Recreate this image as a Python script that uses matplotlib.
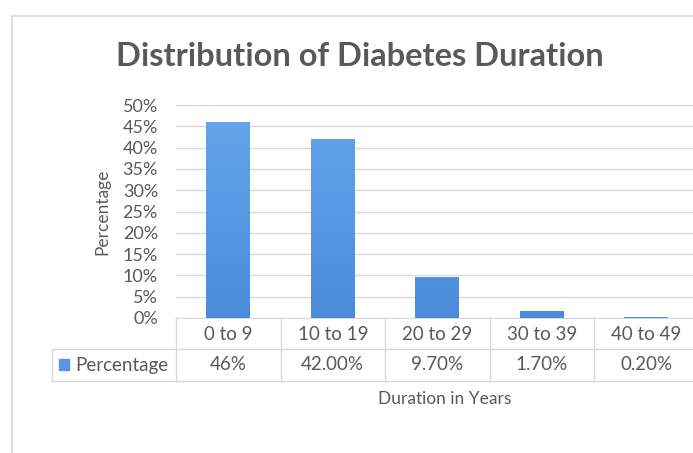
import matplotlib.pyplot as plt
import numpy as np
from matplotlib.patches import Rectangle
from matplotlib.lines import Line2D
from matplotlib.colors import LinearSegmentedColormap
import matplotlib.transforms as mtransforms

categories = ['0 to 9', '10 to 19', '20 to 29', '30 to 39', '40 to 49']
values = [46, 42, 9.7, 1.7, 0.2]
table_labels = ['46%', '42.00%', '9.70%', '1.70%', '0.20%']
yticks = [0, 5, 10, 15, 20, 25, 30, 35, 40, 45, 50]

plt.rcParams['font.family'] = ['Lato', 'DejaVu Sans']
text_color = '#595959'
grid_color = '#d9d9d9'
bar_color = '#5597e0'

fig = plt.figure(figsize=(6.93, 4.53), dpi=100)

# chart frame
fig.patches.append(Rectangle((12 / 693, -0.1), 1.0, (453 - 16) / 453 + 0.1,
                             transform=fig.transFigure, fill=False,
                             edgecolor='#d9d9d9', linewidth=1.2))

ax = fig.add_axes([176 / 693, 135 / 453, 522.5 / 693, 213 / 453])
x = range(len(categories))
bars = ax.bar(x, values, width=0.42, color=bar_color, zorder=3)

# soft vertical gradient like the Excel fill
cmap = LinearSegmentedColormap.from_list('barfill', ['#4a8cda', '#65a6ec'])
grad = np.linspace(0, 1, 256).reshape(-1, 1)
for b in bars:
    im = ax.imshow(grad, cmap=cmap, origin='lower', aspect='auto', zorder=4,
                   extent=[b.get_x(), b.get_x() + b.get_width(), 0, 50])
    im.set_clip_path(b)

ax.set_xlim(-0.5, 4.5)
ax.set_ylim(0, 50)
ax.set_yticks(yticks)
ax.set_yticklabels([f'{v}%' for v in yticks], color=text_color, fontsize=13)
ax.tick_params(axis='y', length=0, pad=13)
ax.set_xticks([])
ax.grid(axis='y', color=grid_color, linewidth=1, zorder=0)
for s in ['top', 'right', 'left']:
    ax.spines[s].set_visible(False)
ax.spines['bottom'].set_color(grid_color)

ax.set_ylabel('Percentage', color=text_color, fontsize=12.5)
ax.yaxis.set_label_coords(-0.125, 0.5)

fig.text(360 / 693, 1 - 57 / 453, 'Distribution of Diabetes Duration',
         ha='center', va='center', fontsize=23.5, fontweight='bold', color=text_color)

# data table below the axis
trans = mtransforms.blended_transform_factory(ax.transData, ax.transAxes)
r1 = -(334 - 318) / 213
r2 = -(365 - 318) / 213
mid = -(349 - 318) / 213
bot = -(381 - 318) / 213
left_x = -0.5 - (176 - 52) / 104.5

for i, cat in enumerate(categories):
    ax.text(i, r1, cat, transform=trans, ha='center', va='center',
            fontsize=13.5, color=text_color, clip_on=False)
    ax.text(i, r2, table_labels[i], transform=trans, ha='center', va='center',
            fontsize=13.5, color=text_color, clip_on=False)

line_kw = dict(transform=trans, color=grid_color, linewidth=1, clip_on=False)
for b in [-0.5, 0.5, 1.5, 2.5, 3.5]:
    ax.add_line(Line2D([b, b], [0, bot], **line_kw))
ax.add_line(Line2D([left_x, 4.6], [mid, mid], **line_kw))
ax.add_line(Line2D([left_x, 4.6], [bot, bot], **line_kw))
ax.add_line(Line2D([left_x, left_x], [mid, bot], **line_kw))

# legend key in table
fig.patches.append(Rectangle((59 / 693, 1 - 370 / 453), 10 / 693, 11 / 453,
                             transform=fig.transFigure, color=bar_color))
fig.text(75 / 693, 1 - 365 / 453, 'Percentage', ha='left', va='center',
         fontsize=13.5, color=text_color)

fig.text(445 / 693, 1 - 399 / 453, 'Duration in Years', ha='center', va='center',
         fontsize=12.5, color=text_color)

fig.savefig('out.png', dpi=100, facecolor='white')
